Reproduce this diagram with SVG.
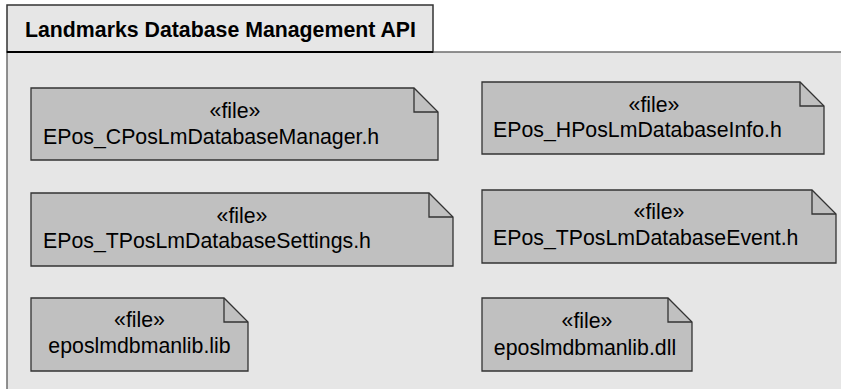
<svg xmlns="http://www.w3.org/2000/svg" width="841" height="389" viewBox="0 0 841 389">
  <style>
    .body { fill: #e6e6e6; stroke: #6e6e6e; stroke-width: 1.5; }
    .tab { fill: #e6e6e6; stroke: #333333; stroke-width: 1.5; }
    .file { fill: #c0c0c0; stroke: #333333; stroke-width: 1.3; stroke-linejoin: miter; }
    .fold { fill: none; stroke: #333333; stroke-width: 1.3; }
    .title { font-family: "Liberation Sans", Arial, sans-serif; font-size: 21.3px; font-weight: bold; fill: #000000; }
    .stereo { font-family: "Liberation Sans", Arial, sans-serif; font-size: 21.3px; fill: #000000; text-anchor: middle; }
    .name { font-family: "Liberation Sans", Arial, sans-serif; font-size: 21.3px; fill: #000000; }
    .mid { text-anchor: middle; }
  </style>
  <rect x="0" y="0" width="841" height="389" fill="#ffffff"/>

  <!-- package frame -->
  <g id="package">
    <rect class="body" x="7" y="52" width="850" height="360"/>
    <rect class="tab" x="7" y="5" width="426" height="47"/>
    <line x1="7" y1="52" x2="433" y2="52" stroke="#000000" stroke-width="2"/>
    <text class="title" x="25" y="37">Landmarks Database Management API</text>
  </g>

  <!-- file artifacts -->
  <g id="EPos_CPosLmDatabaseManager">
    <path class="file" d="M31,88 H414 L438,112 V160 H31 Z"/>
    <path class="fold" d="M414,88 V112 H438"/>
    <text class="stereo" x="235" y="118">«file»</text>
    <text class="name" x="43" y="144">EPos_CPosLmDatabaseManager.h</text>
  </g>

  <g id="EPos_HPosLmDatabaseInfo">
    <path class="file" d="M482,82 H800 L824,106 V154 H482 Z"/>
    <path class="fold" d="M800,82 V106 H824"/>
    <text class="stereo" x="654" y="112">«file»</text>
    <text class="name" x="493" y="137">EPos_HPosLmDatabaseInfo.h</text>
  </g>

  <g id="EPos_TPosLmDatabaseSettings">
    <path class="file" d="M31,193 H429 L453,217 V266 H31 Z"/>
    <path class="fold" d="M429,193 V217 H453"/>
    <text class="stereo" x="242" y="223">«file»</text>
    <text class="name" x="43" y="248">EPos_TPosLmDatabaseSettings.h</text>
  </g>

  <g id="EPos_TPosLmDatabaseEvent">
    <path class="file" d="M482,190 H812 L836,214 V263 H482 Z"/>
    <path class="fold" d="M812,190 V214 H836"/>
    <text class="stereo" x="659" y="219">«file»</text>
    <text class="name" x="493" y="245">EPos_TPosLmDatabaseEvent.h</text>
  </g>

  <g id="eposlmdbmanlib_lib">
    <path class="file" d="M31,298 H224 L248,322 V371 H31 Z"/>
    <path class="fold" d="M224,298 V322 H248"/>
    <text class="stereo" x="139.5" y="327">«file»</text>
    <text class="name mid" x="139.5" y="353">eposlmdbmanlib.lib</text>
  </g>

  <g id="eposlmdbmanlib_dll">
    <path class="file" d="M482,298 H668 L692,322 V371 H482 Z"/>
    <path class="fold" d="M668,298 V322 H692"/>
    <text class="stereo" x="587" y="328">«file»</text>
    <text class="name mid" x="585" y="355">eposlmdbmanlib.dll</text>
  </g>

  <g id="connectors"></g>
</svg>
